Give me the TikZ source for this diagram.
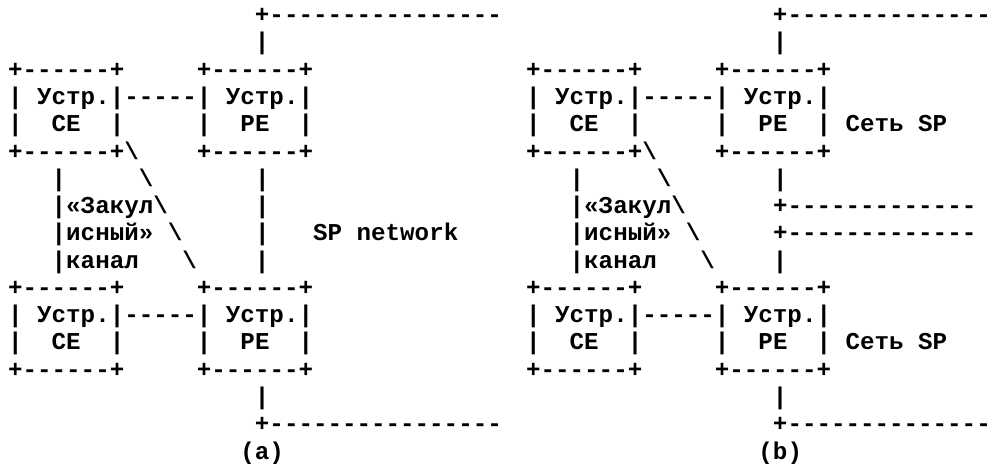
\documentclass[tikz,border=0pt]{standalone}
\usepackage{fontspec}
\setmonofont{Liberation Mono}
\usepackage{tikz}

\begin{document}
\begin{tikzpicture}[x=7.26pt,y=-13.635pt,
    asc/.style={anchor=base west,inner sep=0pt,font=\ttfamily\bfseries\fontsize{12.1}{13}\selectfont}]
  \useasboundingbox (0pt,0pt) rectangle (496.5pt,-232pt);
  % (a)
  \begin{scope}[shift={(3.87pt,-11.35pt)}]
    \node [asc] (a1) at (17,0) {+----------------};
    \node [asc] (a2) at (17,1) {|};
    \node [asc] (a3) at (0,2) {+------+~~~~~+------+};
    \node [asc] (a4) at (0,3) {|~Устр.|-----|~Устр.|};
    \node [asc] (a5) at (0,4) {|~~CE~~|~~~~~|~~PE~~|};
    \node [asc] (a6) at (0,5) {+------+\textbackslash~~~~+------+};
    \node [asc] (a7) at (3,6) {|~~~~~\textbackslash~~~~~~~|};
    \node [asc] (a8) at (3,7) {|«Закул\textbackslash~~~~~~|};
    \node [asc] (a9) at (3,8) {|исный»~\textbackslash~~~~~|~~~SP~network};
    \node [asc] (a10) at (3,9) {|канал~~~\textbackslash~~~~|};
    \node [asc] (a11) at (0,10) {+------+~~~~~+------+};
    \node [asc] (a12) at (0,11) {|~Устр.|-----|~Устр.|};
    \node [asc] (a13) at (0,12) {|~~CE~~|~~~~~|~~PE~~|};
    \node [asc] (a14) at (0,13) {+------+~~~~~+------+};
    \node [asc] (a15) at (17,14) {|};
    \node [asc] (a16) at (17,15) {+----------------};
    \node [asc] (a17) at (16,16) {(a)};
  \end{scope}
  % (b)
  \begin{scope}[shift={(262.87pt,-11.35pt)}]
    \node [asc] (b1) at (17,0) {+--------------};
    \node [asc] (b2) at (17,1) {|};
    \node [asc] (b3) at (0,2) {+------+~~~~~+------+};
    \node [asc] (b4) at (0,3) {|~Устр.|-----|~Устр.|};
    \node [asc] (b5) at (0,4) {|~~CE~~|~~~~~|~~PE~~|~Сеть~SP};
    \node [asc] (b6) at (0,5) {+------+\textbackslash~~~~+------+};
    \node [asc] (b7) at (3,6) {|~~~~~\textbackslash~~~~~~~|};
    \node [asc] (b8) at (3,7) {|«Закул\textbackslash~~~~~~+-------------};
    \node [asc] (b9) at (3,8) {|исный»~\textbackslash~~~~~+-------------};
    \node [asc] (b10) at (3,9) {|канал~~~\textbackslash~~~~|};
    \node [asc] (b11) at (0,10) {+------+~~~~~+------+};
    \node [asc] (b12) at (0,11) {|~Устр.|-----|~Устр.|};
    \node [asc] (b13) at (0,12) {|~~CE~~|~~~~~|~~PE~~|~Сеть~SP};
    \node [asc] (b14) at (0,13) {+------+~~~~~+------+};
    \node [asc] (b15) at (17,14) {|};
    \node [asc] (b16) at (17,15) {+--------------};
    \node [asc] (b17) at (16,16) {(b)};
  \end{scope}
\end{tikzpicture}
\end{document}
